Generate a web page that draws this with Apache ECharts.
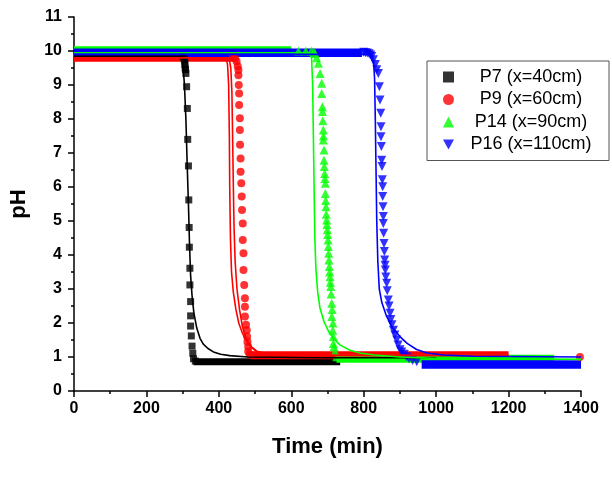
<!DOCTYPE html>
<html>
<head>
<meta charset="utf-8">
<script src="https://cdn.jsdelivr.net/npm/echarts@6/dist/echarts.min.js"></script>
<style>html,body{margin:0;padding:0;background:#fff}#c{width:612px;height:486px}</style>
</head>
<body>
<div id="c"></div>
<script>
// ---- data (time in min, pH) ----
const seriesNames = ['P7 (x=40cm)', 'P9 (x=60cm)', 'P14 (x=90cm)', 'P16 (x=110cm)'];
const xTicks = [0, 200, 400, 600, 800, 1000, 1200, 1400];
const yTicks = [0, 1, 2, 3, 4, 5, 6, 7, 8, 9, 10, 11];

// dense marker plateaus (drawn as bands): [tStart, tEnd, pH]
const p7Bands  = [[0, 300, 9.88], [330, 735, 0.86]];
const p9Bands  = [[0, 440, 9.8], [490, 1200, 1.05]];
const p14Bands = [[0, 600, 10.02], [725, 1326, 0.95]];
const p16Bands = [[0, 795, 9.95], [960, 1400, 0.78]];

const p7Pts = [[300,9.85],[303,9.8],[305,9.75],[306,9.7],[306,9.6],[307,9.5],[308,9.45],[309,9.34],[311,8.95],[313,8.31],[314,7.40],[316,6.62],[317,5.62],[318,4.81],[318.5,4.23],[320,3.61],[320,3.12],[322,2.63],[322,2.21],[322,1.91],[324,1.62],[326,1.32],[328,1.11],[330,0.95],[335,0.88]];
const p9Pts = [[440,9.83],[445,9.78],[449,9.69],[452,9.55],[454,9.44],[454,9.29],[455,9.0],[456,8.75],[456,8.41],[458,8.02],[458,7.68],[458.5,7.24],[460,6.84],[460,6.45],[462,6.11],[463,5.72],[464,5.32],[466,4.93],[466,4.44],[468,4.05],[468,3.56],[470,3.12],[472,2.73],[472,2.48],[472,2.19],[475,1.95],[477,1.79],[478,1.6],[479,1.45],[481,1.3],[481,1.16],[485,1.08],[490,1.05],[1397,1.0]];
const p14Pts = [[620,10.0],[640,10.0],[655,10.0],[662,9.98],[665.6,9.93],[670,9.8],[674.8,9.64],[679.4,9.34],[684,9.05],[684,8.75],[685.8,8.36],[686,8.22],[687,7.95],[688.5,7.68],[689,7.5],[688.5,7.38],[690.4,7.09],[690.4,6.79],[691,6.6],[692.3,6.40],[693,6.25],[694,6.11],[694,5.81],[695,5.6],[695.9,5.42],[696.5,5.2],[697.7,5.03],[698.5,4.9],[699.5,4.74],[700.5,4.6],[701.5,4.44],[702.5,4.25],[703.3,4.05],[704,3.85],[705,3.66],[706,3.5],[707,3.36],[708,3.2],[708.9,3.07],[710,2.85],[711.7,2.58],[713,2.4],[711.7,2.19],[715,2.0],[714.5,1.79],[716,1.6],[716.1,1.40],[718,1.3],[720.8,1.16],[725.5,1.01]];
const p16Pts = [[800,9.96],[805,9.95],[810,9.94],[815,9.92],[819,9.88],[822,9.84],[826.6,9.74],[832,9.6],[836,9.45],[840.4,9.34],[843.2,8.95],[845,8.56],[847,8.17],[847.8,7.77],[847.8,7.48],[848.7,7.19],[849.6,6.79],[850.5,6.60],[851.4,6.21],[852.4,6.01],[852.4,5.72],[853.3,5.42],[854.2,5.13],[854.2,4.93],[855,4.64],[856,4.34],[857,4.1],[858,3.85],[859,3.7],[859.7,3.56],[861,3.35],[863.4,3.17],[865,2.95],[868,2.68],[870,2.5],[872.7,2.29],[875,2.1],[878,1.95],[882,1.79],[886,1.65],[891,1.50],[895,1.35],[900.3,1.21],[905,1.15],[912,1.08],[918.7,1.01],[925,0.95],[935,0.9],[946.4,0.86]];

// fitted curves
const p7Fit = [[0,9.85],[295,9.85],[300,9.7],[305,9.0],[309,8.0],[313,6.5],[316,5.5],[319,4.3],[322,3.4],[326,2.8],[331,2.3],[339,1.85],[348,1.55],[357,1.38],[370,1.25],[385,1.15],[405,1.08],[430,1.04],[480,1.0],[700,0.98],[1000,0.98]];
const p9FitA = [[0,9.8],[420,9.8],[424,9.6],[427,9.0],[429,7.5],[430,6.0],[432,4.5],[435,3.5],[440,2.9],[447,2.4],[455,2.0],[465,1.7],[475,1.5],[490,1.3],[505,1.17],[530,1.1],[560,1.06],[650,1.04],[1200,1.04]];
const p9FitB = [[0,9.8],[428,9.8],[433,9.5],[436,8.8],[438,7.5],[440,6.0],[442,4.8],[445,3.8],[450,3.0],[457,2.4],[465,1.9],[475,1.55],[488,1.3],[505,1.15],[530,1.08],[600,1.05],[1200,1.05]];
const p14Fit = [[0,9.95],[650,9.95],[656,9.8],[659,9.0],[661,7.5],[663,6.0],[665,4.5],[668,3.6],[673,2.9],[679,2.45],[690,2.05],[703,1.75],[716,1.55],[735,1.35],[762,1.2],[790,1.12],[830,1.06],[900,1.0],[1000,0.96],[1400,0.93]];
const p16Fit = [[0,9.9],[822,9.9],[827,9.7],[830,9.2],[832,8.0],[834,6.5],[836,5.0],[839,3.8],[843,3.0],[850,2.6],[863,2.2],[880,1.85],[900,1.6],[920,1.4],[946,1.22],[975,1.12],[1020,1.06],[1100,1.02],[1400,1.0]];

const colors = ['#000000', '#ff0000', '#00ff00', '#0000ff'];
const symbols = ['rect', 'circle', 'triangle', 'path://M0,0L10,0L5,9Z'];
const symSizes = [7, 8, 9, 9];
const bandWidths = [7, 8, 8, 8.5];

// ---- build options ----
const FONT = '"Liberation Sans", Arial, sans-serif';
const series = [];
const bandSets = [p7Bands, p9Bands, p14Bands, p16Bands];
const ptSets = [p7Pts, p9Pts, p14Pts, p16Pts];
const fitSets = [[p7Fit], [p9FitA, p9FitB], [p14Fit], [p16Fit]];
for (let i = 0; i < 4; i++) {
  bandSets[i].forEach((b, k) => {
    series.push({
      name: 'band' + i + '_' + k, type: 'line', silent: true, symbol: 'none',
      data: [[b[0], b[2]], [b[1], b[2]]],
      lineStyle: { color: colors[i], width: bandWidths[i], cap: 'butt' }, z: 2
    });
  });
  series.push({
    name: seriesNames[i], type: 'scatter', symbol: symbols[i], symbolSize: symSizes[i],
    data: ptSets[i], itemStyle: { color: colors[i] }, z: 2
  });
  fitSets[i].forEach((f, k) => {
    series.push({
      name: 'fit' + i + '_' + k, type: 'line', silent: true, symbol: 'none', smooth: false,
      data: f, lineStyle: { color: colors[i], width: 1.6 }, z: 3
    });
  });
}

const chart = echarts.init(document.getElementById('c'), null, { renderer: 'canvas' });
chart.setOption({
  animation: false,
  backgroundColor: '#fff',
  grid: { left: 74, right: 31, top: 17, bottom: 95, containLabel: false },
  legend: {
    orient: 'vertical', left: 427, top: 61,
    padding: [7, 6, 7, 16],
    itemGap: 4.5, itemWidth: 11, itemHeight: 11,
    borderColor: '#555', borderWidth: 1,
    data: seriesNames.map((n, i) => ({ name: n, icon: symbols[i] })),
    formatter: n => '{a|' + n + '}',
    textStyle: {
      fontFamily: FONT, fontSize: 18, color: '#000',
      rich: { a: { width: 144, align: 'center', fontSize: 18, fontFamily: FONT, lineHeight: 18 } }
    }
  },
  xAxis: {
    type: 'value', min: 0, max: 1400, interval: 200,
    name: 'Time (min)', nameLocation: 'middle', nameGap: 45,
    nameTextStyle: { fontFamily: FONT, fontSize: 22, fontWeight: 'bold', color: '#000' },
    axisLine: { show: true, onZero: false, lineStyle: { color: '#000', width: 1.5 } },
    axisTick: { show: true, inside: false, length: 6, lineStyle: { color: '#000', width: 1.5 } },
    minorTick: { show: true, splitNumber: 2, length: 3, lineStyle: { color: '#000', width: 1.5 } },
    splitLine: { show: false },
    axisLabel: { fontFamily: FONT, fontSize: 16, fontWeight: 'bold', color: '#000', margin: 10,
      formatter: v => xTicks.includes(v) ? String(v) : '' }
  },
  yAxis: {
    type: 'value', min: 0, max: 11, interval: 1,
    name: 'pH', nameLocation: 'middle', nameGap: 44, nameRotate: 90,
    nameTextStyle: { fontFamily: FONT, fontSize: 22, fontWeight: 'bold', color: '#000' },
    axisLine: { show: true, onZero: false, lineStyle: { color: '#000', width: 1.5 } },
    axisTick: { show: true, inside: false, length: 6, lineStyle: { color: '#000', width: 1.5 } },
    minorTick: { show: true, splitNumber: 2, length: 3, lineStyle: { color: '#000', width: 1.5 } },
    splitLine: { show: false },
    axisLabel: { fontFamily: FONT, fontSize: 16, fontWeight: 'bold', color: '#000', margin: 12,
      formatter: v => yTicks.includes(v) ? String(v) : '' }
  },
  series: series
});
</script>
</body>
</html>
